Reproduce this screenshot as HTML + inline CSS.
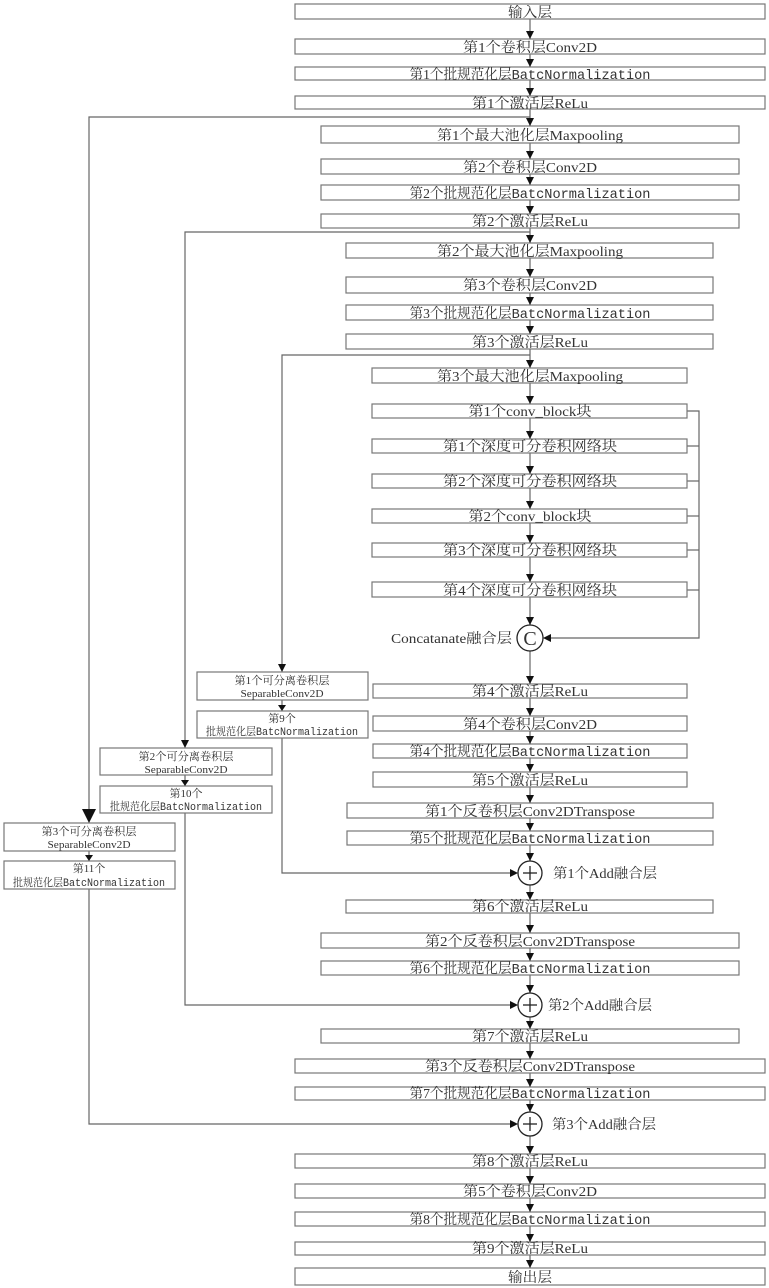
<!DOCTYPE html>
<html><head><meta charset="utf-8"><style>
html,body{margin:0;padding:0;background:#fff;}
svg{display:block;}
text{font-family:"Liberation Serif","Noto Serif CJK SC",serif;fill:#333;}
.m{font-family:"Liberation Mono","Noto Serif CJK SC",monospace;}
</style></head><body>
<svg width="769" height="1288" viewBox="0 0 769 1288" xmlns="http://www.w3.org/2000/svg">
<g stroke="#666" stroke-width="1.2" fill="none">
<line x1="530" y1="19" x2="530" y2="1268"/>
<polyline points="530,117 89,117 89,815"/>
<polyline points="530,232 185,232 185,742"/>
<polyline points="530,355 282,355 282,666"/>
<line x1="89" y1="851" x2="89" y2="856"/>
<polyline points="89,889 89,1124 510,1124"/>
<line x1="185" y1="775" x2="185" y2="780"/>
<polyline points="185,813 185,1005 510,1005"/>
<line x1="282" y1="700" x2="282" y2="705"/>
<polyline points="282,738 282,873 510,873"/>
<polyline points="687,411 699,411 699,638 550,638"/>
<line x1="687" y1="446" x2="699" y2="446"/>
<line x1="687" y1="481" x2="699" y2="481"/>
<line x1="687" y1="516" x2="699" y2="516"/>
<line x1="687" y1="550" x2="699" y2="550"/>
<line x1="687" y1="590" x2="699" y2="590"/>
</g>
<g fill="#fff" stroke="#777" stroke-width="1.2">
<rect x="295" y="4" width="470" height="15"/>
<rect x="295" y="39" width="470" height="15"/>
<rect x="295" y="67" width="470" height="13"/>
<rect x="295" y="96" width="470" height="13"/>
<rect x="321" y="126" width="418" height="17"/>
<rect x="321" y="159" width="418" height="15"/>
<rect x="321" y="185" width="418" height="15"/>
<rect x="321" y="214" width="418" height="14"/>
<rect x="346" y="243" width="367" height="15"/>
<rect x="346" y="277" width="367" height="16"/>
<rect x="346" y="305" width="367" height="15"/>
<rect x="346" y="334" width="367" height="15"/>
<rect x="372" y="368" width="315" height="15"/>
<rect x="372" y="404" width="315" height="14"/>
<rect x="372" y="439" width="315" height="14"/>
<rect x="372" y="474" width="315" height="14"/>
<rect x="372" y="509" width="315" height="14"/>
<rect x="372" y="543" width="315" height="14"/>
<rect x="372" y="582" width="315" height="15"/>
<rect x="373" y="684" width="314" height="14"/>
<rect x="373" y="716" width="314" height="15"/>
<rect x="373" y="744" width="314" height="14"/>
<rect x="373" y="772" width="314" height="15"/>
<rect x="347" y="803" width="366" height="15"/>
<rect x="347" y="831" width="366" height="14"/>
<rect x="346" y="900" width="367" height="13"/>
<rect x="321" y="933" width="418" height="15"/>
<rect x="321" y="961" width="418" height="14"/>
<rect x="321" y="1029" width="418" height="14"/>
<rect x="295" y="1059" width="470" height="14"/>
<rect x="295" y="1087" width="470" height="13"/>
<rect x="295" y="1154" width="470" height="14"/>
<rect x="295" y="1184" width="470" height="14"/>
<rect x="295" y="1212" width="470" height="14"/>
<rect x="295" y="1242" width="470" height="13"/>
<rect x="295" y="1268" width="470" height="17"/>
<rect x="197" y="672" width="171" height="28"/>
<rect x="197" y="711" width="171" height="27"/>
<rect x="100" y="748" width="172" height="27"/>
<rect x="100" y="786" width="172" height="27"/>
<rect x="4" y="823" width="171" height="28"/>
<rect x="4" y="861" width="171" height="28"/>
</g>
<g fill="#fff" stroke="#222" stroke-width="1.3">
<circle cx="530" cy="638" r="13"/>
<circle cx="530" cy="873" r="12"/>
<circle cx="530" cy="1005" r="12"/>
<circle cx="530" cy="1124" r="12"/>
</g>
<g stroke="#222" stroke-width="1.3">
<line x1="523" y1="873" x2="537" y2="873"/><line x1="530" y1="866" x2="530" y2="880"/>
<line x1="523" y1="1005" x2="537" y2="1005"/><line x1="530" y1="998" x2="530" y2="1012"/>
<line x1="523" y1="1124" x2="537" y2="1124"/><line x1="530" y1="1117" x2="530" y2="1131"/>
</g>
<g fill="#111">
<polygon points="526,31 534,31 530,39"/>
<polygon points="526,59 534,59 530,67"/>
<polygon points="526,88 534,88 530,96"/>
<polygon points="526,118 534,118 530,126"/>
<polygon points="526,151 534,151 530,159"/>
<polygon points="526,177 534,177 530,185"/>
<polygon points="526,206 534,206 530,214"/>
<polygon points="526,235 534,235 530,243"/>
<polygon points="526,269 534,269 530,277"/>
<polygon points="526,297 534,297 530,305"/>
<polygon points="526,326 534,326 530,334"/>
<polygon points="526,360 534,360 530,368"/>
<polygon points="526,396 534,396 530,404"/>
<polygon points="526,431 534,431 530,439"/>
<polygon points="526,466 534,466 530,474"/>
<polygon points="526,501 534,501 530,509"/>
<polygon points="526,535 534,535 530,543"/>
<polygon points="526,574 534,574 530,582"/>
<polygon points="526,617 534,617 530,625"/>
<polygon points="526,676 534,676 530,684"/>
<polygon points="526,708 534,708 530,716"/>
<polygon points="526,736 534,736 530,744"/>
<polygon points="526,764 534,764 530,772"/>
<polygon points="526,795 534,795 530,803"/>
<polygon points="526,823 534,823 530,831"/>
<polygon points="526,853 534,853 530,861"/>
<polygon points="526,892 534,892 530,900"/>
<polygon points="526,925 534,925 530,933"/>
<polygon points="526,953 534,953 530,961"/>
<polygon points="526,985 534,985 530,993"/>
<polygon points="526,1021 534,1021 530,1029"/>
<polygon points="526,1051 534,1051 530,1059"/>
<polygon points="526,1079 534,1079 530,1087"/>
<polygon points="526,1104 534,1104 530,1112"/>
<polygon points="526,1146 534,1146 530,1154"/>
<polygon points="526,1176 534,1176 530,1184"/>
<polygon points="526,1204 534,1204 530,1212"/>
<polygon points="526,1234 534,1234 530,1242"/>
<polygon points="526,1260 534,1260 530,1268"/>
<polygon points="551,634 551,642 543,638"/>
<polygon points="510,869 510,877 518,873"/>
<polygon points="510,1001 510,1009 518,1005"/>
<polygon points="510,1120 510,1128 518,1124"/>
<polygon points="82,809 96,809 89,823"/>
<polygon points="181,740 189,740 185,748"/>
<polygon points="278,664 286,664 282,672"/>
<polygon points="85,855 93,855 89,861"/>
<polygon points="181,780 189,780 185,786"/>
<polygon points="278,705 286,705 282,711"/>
</g>
<g font-size="14" text-anchor="middle">
<text x="530" y="17" textLength="44" lengthAdjust="spacingAndGlyphs">输入层</text>
<text x="530" y="52" textLength="134" lengthAdjust="spacingAndGlyphs">第1个卷积层Conv2D</text>
<text x="530" y="79" textLength="241" lengthAdjust="spacingAndGlyphs">第1个批规范化层<tspan class="m">BatcNormalization</tspan></text>
<text x="530" y="108" textLength="116" lengthAdjust="spacingAndGlyphs">第1个激活层ReLu</text>
<text x="530" y="140" textLength="186" lengthAdjust="spacingAndGlyphs">第1个最大池化层Maxpooling</text>
<text x="530" y="172" textLength="134" lengthAdjust="spacingAndGlyphs">第2个卷积层Conv2D</text>
<text x="530" y="198" textLength="241" lengthAdjust="spacingAndGlyphs">第2个批规范化层<tspan class="m">BatcNormalization</tspan></text>
<text x="530" y="226" textLength="116" lengthAdjust="spacingAndGlyphs">第2个激活层ReLu</text>
<text x="530" y="256" textLength="186" lengthAdjust="spacingAndGlyphs">第2个最大池化层Maxpooling</text>
<text x="530" y="290" textLength="134" lengthAdjust="spacingAndGlyphs">第3个卷积层Conv2D</text>
<text x="530" y="318" textLength="241" lengthAdjust="spacingAndGlyphs">第3个批规范化层<tspan class="m">BatcNormalization</tspan></text>
<text x="530" y="347" textLength="116" lengthAdjust="spacingAndGlyphs">第3个激活层ReLu</text>
<text x="530" y="381" textLength="186" lengthAdjust="spacingAndGlyphs">第3个最大池化层Maxpooling</text>
<text x="530" y="416" textLength="123" lengthAdjust="spacingAndGlyphs">第1个conv_block块</text>
<text x="530" y="451" textLength="174" lengthAdjust="spacingAndGlyphs">第1个深度可分卷积网络块</text>
<text x="530" y="486" textLength="174" lengthAdjust="spacingAndGlyphs">第2个深度可分卷积网络块</text>
<text x="530" y="521" textLength="123" lengthAdjust="spacingAndGlyphs">第2个conv_block块</text>
<text x="530" y="555" textLength="174" lengthAdjust="spacingAndGlyphs">第3个深度可分卷积网络块</text>
<text x="530" y="595" textLength="174" lengthAdjust="spacingAndGlyphs">第4个深度可分卷积网络块</text>
<text x="530" y="696" textLength="116" lengthAdjust="spacingAndGlyphs">第4个激活层ReLu</text>
<text x="530" y="729" textLength="134" lengthAdjust="spacingAndGlyphs">第4个卷积层Conv2D</text>
<text x="530" y="756" textLength="241" lengthAdjust="spacingAndGlyphs">第4个批规范化层<tspan class="m">BatcNormalization</tspan></text>
<text x="530" y="785" textLength="116" lengthAdjust="spacingAndGlyphs">第5个激活层ReLu</text>
<text x="530" y="816" textLength="210" lengthAdjust="spacingAndGlyphs">第1个反卷积层Conv2DTranspose</text>
<text x="530" y="843" textLength="241" lengthAdjust="spacingAndGlyphs">第5个批规范化层<tspan class="m">BatcNormalization</tspan></text>
<text x="530" y="911" textLength="116" lengthAdjust="spacingAndGlyphs">第6个激活层ReLu</text>
<text x="530" y="946" textLength="210" lengthAdjust="spacingAndGlyphs">第2个反卷积层Conv2DTranspose</text>
<text x="530" y="973" textLength="241" lengthAdjust="spacingAndGlyphs">第6个批规范化层<tspan class="m">BatcNormalization</tspan></text>
<text x="530" y="1041" textLength="116" lengthAdjust="spacingAndGlyphs">第7个激活层ReLu</text>
<text x="530" y="1071" textLength="210" lengthAdjust="spacingAndGlyphs">第3个反卷积层Conv2DTranspose</text>
<text x="530" y="1098" textLength="241" lengthAdjust="spacingAndGlyphs">第7个批规范化层<tspan class="m">BatcNormalization</tspan></text>
<text x="530" y="1166" textLength="116" lengthAdjust="spacingAndGlyphs">第8个激活层ReLu</text>
<text x="530" y="1196" textLength="134" lengthAdjust="spacingAndGlyphs">第5个卷积层Conv2D</text>
<text x="530" y="1224" textLength="241" lengthAdjust="spacingAndGlyphs">第8个批规范化层<tspan class="m">BatcNormalization</tspan></text>
<text x="530" y="1253" textLength="116" lengthAdjust="spacingAndGlyphs">第9个激活层ReLu</text>
<text x="530" y="1282" textLength="44" lengthAdjust="spacingAndGlyphs">输出层</text>
<text x="530" y="645" font-size="20">C</text>
</g>
<g font-size="14">
<text x="391" y="643" textLength="121" lengthAdjust="spacingAndGlyphs">Concatanate融合层</text>
<text x="553" y="878" textLength="104" lengthAdjust="spacingAndGlyphs">第1个Add融合层</text>
<text x="548" y="1010" textLength="104" lengthAdjust="spacingAndGlyphs">第2个Add融合层</text>
<text x="552" y="1129" textLength="104" lengthAdjust="spacingAndGlyphs">第3个Add融合层</text>
</g>
<g font-size="11" text-anchor="middle">
<text x="282" y="684" textLength="95" lengthAdjust="spacingAndGlyphs">第1个可分离卷积层</text>
<text x="282" y="697" textLength="83" lengthAdjust="spacingAndGlyphs">SeparableConv2D</text>
<text x="282" y="722">第9个</text>
<text x="282" y="735" textLength="152" lengthAdjust="spacingAndGlyphs">批规范化层<tspan class="m">BatcNormalization</tspan></text>
<text x="186" y="760" textLength="95" lengthAdjust="spacingAndGlyphs">第2个可分离卷积层</text>
<text x="186" y="773" textLength="83" lengthAdjust="spacingAndGlyphs">SeparableConv2D</text>
<text x="186" y="797">第10个</text>
<text x="186" y="810" textLength="152" lengthAdjust="spacingAndGlyphs">批规范化层<tspan class="m">BatcNormalization</tspan></text>
<text x="89" y="835" textLength="95" lengthAdjust="spacingAndGlyphs">第3个可分离卷积层</text>
<text x="89" y="848" textLength="83" lengthAdjust="spacingAndGlyphs">SeparableConv2D</text>
<text x="89" y="872">第11个</text>
<text x="89" y="886" textLength="152" lengthAdjust="spacingAndGlyphs">批规范化层<tspan class="m">BatcNormalization</tspan></text>
</g>
</svg>
</body></html>
